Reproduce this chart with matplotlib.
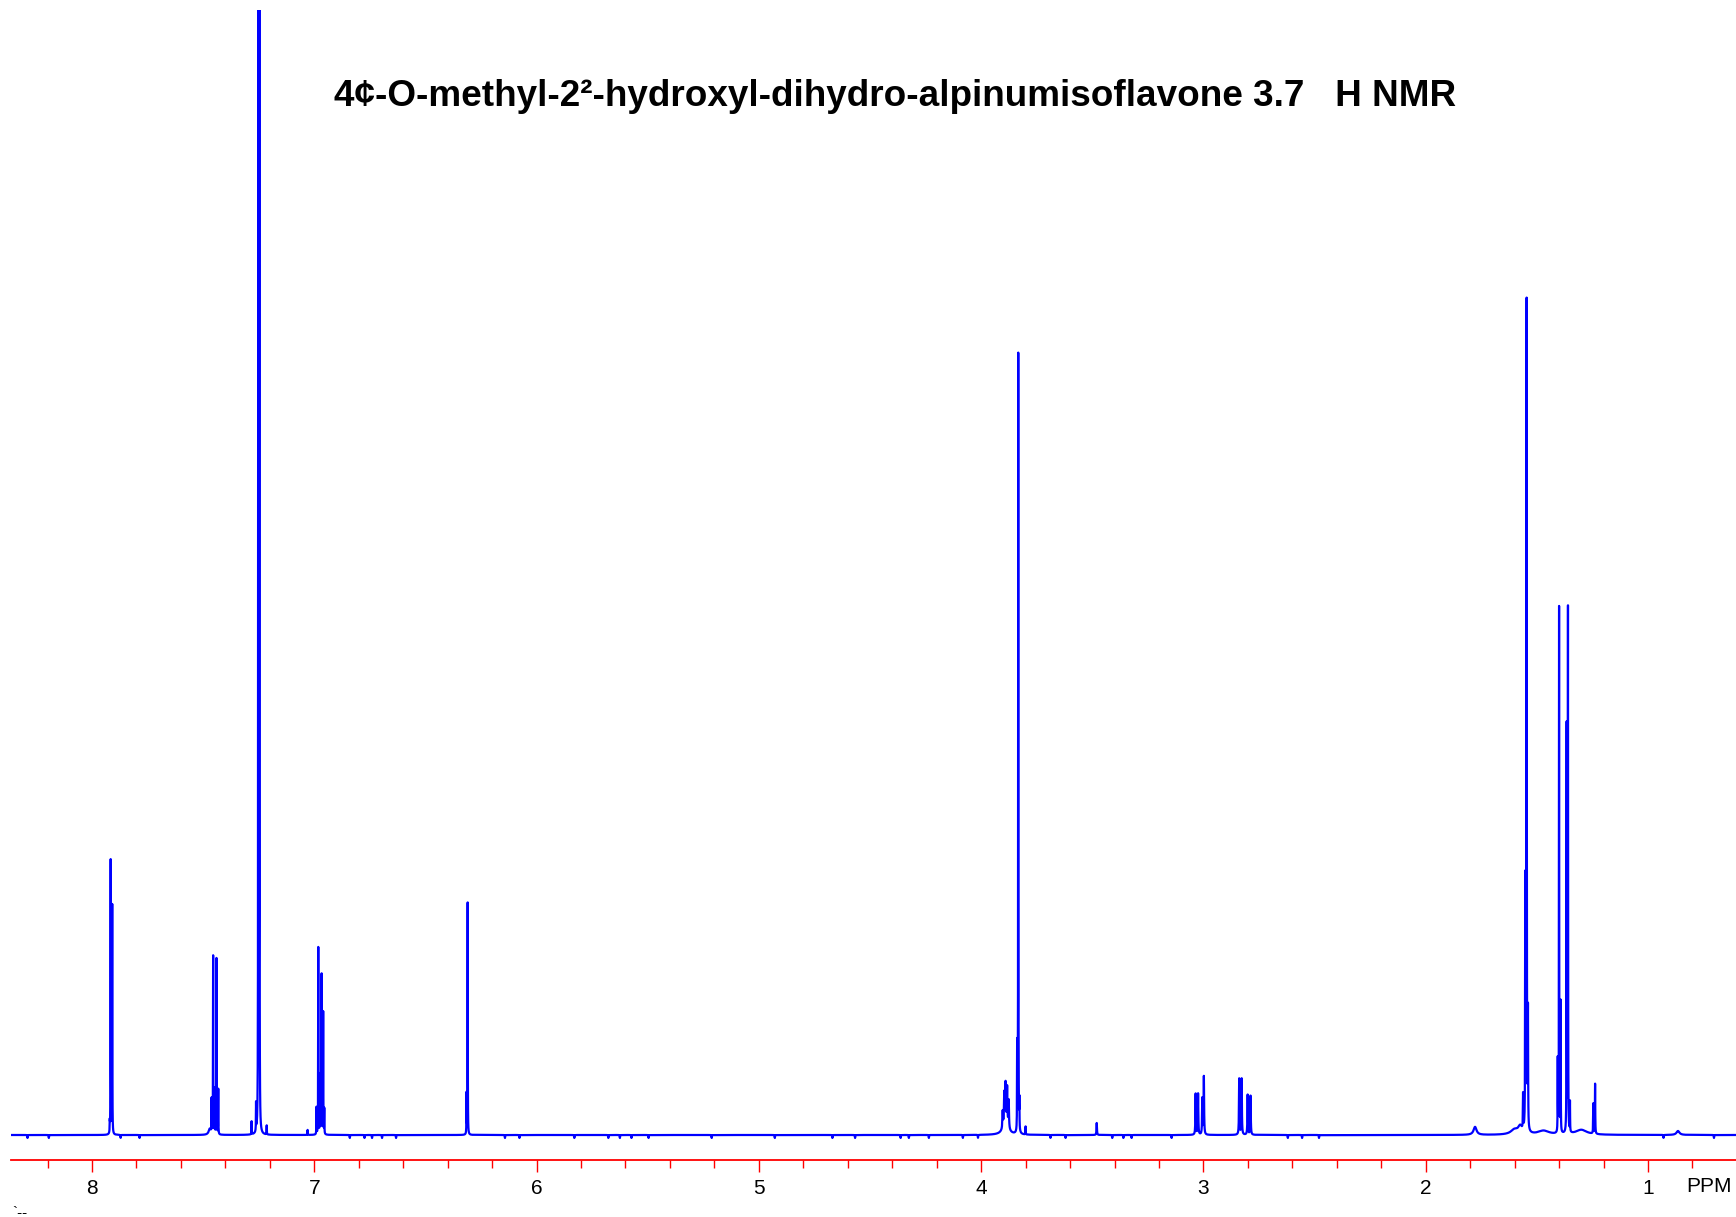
import numpy as np
import matplotlib.pyplot as plt
from matplotlib.ticker import MultipleLocator, FormatStrFormatter

# 1H NMR peak list: shift (ppm), height (above baseline), half width (ppm)
peak_shift = [7.920, 7.916, 7.909,
              7.462, 7.455, 7.448, 7.440, 7.432,
              7.282, 7.262, 7.252, 7.247, 7.214, 7.030,
              6.990, 6.982, 6.975, 6.970, 6.967, 6.960, 6.955,
              6.315, 6.310,
              3.903, 3.896, 3.890, 3.883, 3.876,
              3.838, 3.833, 3.828, 3.800, 3.480,
              3.035, 3.024, 3.005, 2.998,
              2.839, 2.828, 2.801, 2.788,
              1.562, 1.552, 1.546, 1.540,
              1.406, 1.400, 1.393,
              1.366, 1.360, 1.351,
              1.246, 1.238]
peak_height = [10, 274, 229,
               34, 178, 45, 176, 45,
               13, 28, 1109, 1130, 9, 5,
               27, 187, 55, 55, 158, 122, 25,
               40, 232,
               17, 32, 40, 38, 28,
               85, 780, 28, 8, 12,
               41, 41, 36, 58,
               56, 56, 40, 39,
               35, 247, 829, 115,
               72, 526, 130,
               407, 524, 30,
               30, 50]
peak_width = [0.0006] * 3 + [0.0006] * 5 + [0.0006] * 6 + [0.0006] * 7 + [0.0006] * 2 \
    + [0.0015] * 5 + [0.0006] * 4 + [0.0012] \
    + [0.0012] * 4 + [0.0012] * 4 \
    + [0.0008] * 4 + [0.0006] * 3 + [0.0006] * 3 + [0.0008] * 2

# broad humps under the multiplets
broad_shift = [7.470, 3.890, 1.778, 1.600, 1.575, 1.470, 1.300, 0.865]
broad_height = [6, 10, 8, 5, 7, 4, 5, 4]
broad_width = [0.006, 0.015, 0.008, 0.020, 0.010, 0.030, 0.030, 0.008]

# small negative noise spikes on the baseline
dip_shift = [8.29, 8.194, 7.871, 7.786, 6.84, 6.774, 6.74, 6.695, 6.632,
             6.142, 6.077, 5.83, 5.677, 5.625, 5.573, 5.496, 5.212, 4.928,
             4.669, 4.567, 4.362, 4.325, 4.235, 4.082, 4.014, 3.688, 3.62,
             3.41, 3.36, 3.323, 3.143, 2.62, 2.556, 2.48, 0.93, 0.703]
dip_depth = 3

major_ticks = [8, 7, 6, 5, 4, 3, 2, 1]
title = "4¢-O-methyl-2²-hydroxyl-dihydro-alpinumisoflavone 3.7   H NMR"

W, H = 1736, 1217
ppm_left, ppm_right = 8.3644, 0.6041

# sampling grid, with every line centre on it so the apexes are not missed
ppm = np.union1d(np.arange(ppm_right, ppm_left, 0.0002), peak_shift)
spec = np.zeros_like(ppm)
for c, h, w in zip(peak_shift + broad_shift, peak_height + broad_height,
                   peak_width + broad_width):
    spec += h / (1 + ((ppm - c) / w) ** 2)
for c in dip_shift:
    spec -= dip_depth / (1 + ((ppm - c) / 0.0008) ** 2)

fig = plt.figure(figsize=(W / 100, H / 100), dpi=100)
fig.patch.set_facecolor('white')

# spectrum trace, 1 unit = 1 pixel, baseline at y=1135 px
ax = fig.add_axes([11 / W, 1 - 1145 / H, (W - 11) / W, (1145 - 10) / H])
ax.plot(ppm, spec, color='#0000ff', lw=1.6)
ax.set_xlim(ppm_left, ppm_right)
ax.set_ylim(-10, 1125)
ax.axis('off')

# red ppm scale
ax2 = fig.add_axes([11 / W, 1 - 1160 / H, (W - 11) / W, 0.0001])
ax2.set_xlim(ppm_left, ppm_right)
ax2.patch.set_visible(False)
for s in ['top', 'left', 'right']:
    ax2.spines[s].set_visible(False)
ax2.spines['bottom'].set_color('#ff0000')
ax2.spines['bottom'].set_linewidth(1.3)
ax2.set_yticks([])
ax2.set_xticks(major_ticks)
ax2.xaxis.set_major_formatter(FormatStrFormatter('%d'))
ax2.xaxis.set_minor_locator(MultipleLocator(0.2))
ax2.tick_params(axis='x', which='major', direction='out', length=8.6, width=1.0,
                color='#ff0000', labelcolor='black', labelsize=15, pad=5)
ax2.tick_params(axis='x', which='minor', direction='out', length=5.5, width=1.0,
                color='#ff0000')
for lab in ax2.get_xticklabels():
    lab.set_family(['Liberation Sans Narrow', 'Liberation Sans'])

fig.text(1686 / W, 1 - 1186 / H, 'PPM', ha='left', va='center', fontsize=15,
         family=['Liberation Sans Narrow', 'Liberation Sans'])
fig.text(12 / W, 1 - 1205 / H, '`--', ha='left', va='top', fontsize=11,
         family='Liberation Sans')

fig.text(334 / W, 1 - 96 / H, title, ha='left', va='center', fontsize=26.6,
         fontweight='bold', family='Liberation Sans')

fig.savefig('out.png', dpi=100)
